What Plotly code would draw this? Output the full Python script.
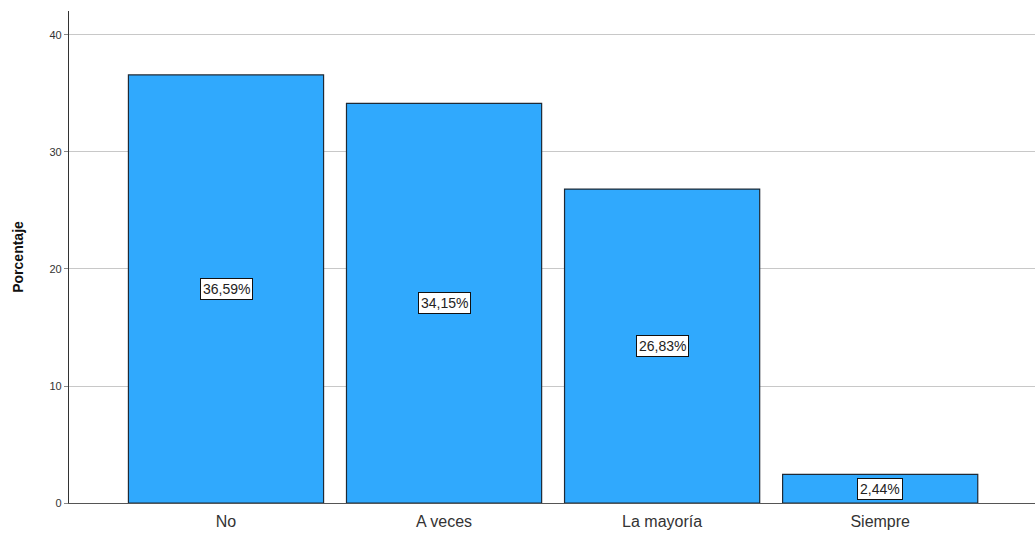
import plotly.graph_objects as go

categories = ["No", "A veces", "La mayoría", "Siempre"]
percentages = [36.59, 34.15, 26.83, 2.44]
y_ticks = [0, 10, 20, 30, 40]

labels = [f"{v:.2f}%".replace(".", ",") for v in percentages]

fig = go.Figure()
fig.add_trace(go.Bar(
    x=categories, y=percentages, width=0.895,
    marker=dict(color="#30A9FD", line=dict(color="#1E2A36", width=1.2)),
    hoverinfo="skip",
))

for c, v, t in zip(categories, percentages, labels):
    fig.add_annotation(
        x=c, y=v / 2, text=t, showarrow=False,
        font=dict(family="Liberation Sans, Arial", size=14, color="#222"),
        bgcolor="white", bordercolor="#111", borderwidth=1, borderpad=2,
    )

fig.update_layout(
    width=1035, height=535,
    margin=dict(l=69, r=0, t=11, b=32),
    paper_bgcolor="white", plot_bgcolor="white",
    showlegend=False,
    font=dict(family="Liberation Sans, Arial", color="#333"),
    xaxis=dict(
        range=[-0.72, 3.71], showgrid=False, showline=True,
        linecolor="#555", linewidth=1.2, ticks="", zeroline=False,
        tickfont=dict(size=16, color="#333"), ticklabelstandoff=4,
    ),
    yaxis=dict(
        range=[0, 42.05], tickvals=y_ticks, showgrid=True,
        gridcolor="#C8C8C8", gridwidth=1, showline=True,
        linecolor="#333", linewidth=1.2, ticks="outside", ticklen=4,
        tickcolor="#888", zeroline=False,
        tickfont=dict(size=11, color="#333"),
        title=dict(text="<b>Porcentaje</b>", font=dict(size=14, color="#111"), standoff=22),
    ),
)

fig.write_html(
    "out.html",
    config={"displayModeBar": False},
    post_script="document.body.style.margin='0';document.body.style.overflow='hidden';",
)
